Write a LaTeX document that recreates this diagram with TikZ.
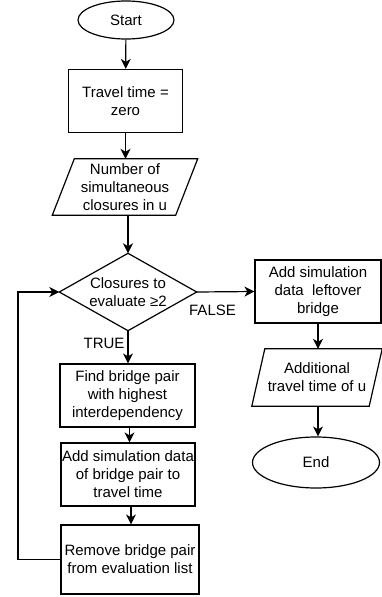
\documentclass[tikz,border=0pt]{standalone}
\usepackage{fontspec}
\setmainfont{Liberation Sans}
\usetikzlibrary{arrows.meta,shapes.geometric}

\begin{document}
\begin{tikzpicture}[x=1pt,y=-1pt,
  every node/.style={font=\fontsize{15}{18}\selectfont, align=center, inner sep=0pt},
  line/.style={line width=1.2pt},
  arr/.style={line, -{Stealth[length=10pt,width=10pt,inset=3pt]}},
  box/.style={draw, line, rectangle},
  term/.style={draw, line, ellipse},
  plain/.style={rectangle}
]
\useasboundingbox (0,0) rectangle (382,597);

% left column
\node[term, minimum width=96pt, minimum height=38pt] (start) at (126,20) {Start};
\node[box, minimum width=114pt, minimum height=63pt] (init) at (125.5,101) {Travel time =\\zero};
\node[plain, minimum width=123pt, minimum height=56pt] (num) at (125,187) {Number of\\simultaneous\\closures in u};
\node[plain, minimum width=137pt, minimum height=77pt] (dec) at (128,292) {Closures to\\evaluate ≥2};
\node[box, minimum width=135pt, minimum height=63pt] (find) at (127.5,395.5) {Find bridge pair\\with highest\\interdependency};
\node[box, minimum width=134pt, minimum height=63pt] (add) at (128,474.5) {Add simulation data\\of bridge pair to\\travel time};
\node[box, minimum width=138pt, minimum height=69pt] (remove) at (130,559.5) {Remove bridge pair\\from evaluation list};

% right column
\node[box, minimum width=126pt, minimum height=63pt] (leftover) at (318,291.5) {Add simulation\\data \ leftover\\bridge};
\node[plain, minimum width=117pt, minimum height=57pt] (extra) at (317,377.5) {Additional\\travel time of u};
\node[term, minimum width=127pt, minimum height=51pt] (end) at (316,462.5) {End};

% input/output parallelograms and decision diamond
\draw[line] ([xshift=11pt]num.north west) -- ([xshift=11pt]num.north east)
  -- ([xshift=-11pt]num.south east) -- ([xshift=-11pt]num.south west) -- cycle;
\draw[line] ([xshift=6.5pt]extra.north west) -- ([xshift=6.5pt]extra.north east)
  -- ([xshift=-6.5pt]extra.south east) -- ([xshift=-6.5pt]extra.south west) -- cycle;
\draw[line] (dec.north) -- (dec.east) -- (dec.south) -- (dec.west) -- cycle;

% connectors
\draw[arr] (start) -- (init);
\draw[arr] (init) -- (init.south |- num.north);
\draw[arr] (num.south -| dec.north) -- (dec.north);
\draw[arr] (dec.east) -- (leftover.west);
\draw[arr] (dec.south) -- (dec.south |- find.north);
\draw[arr] ([xshift=2pt]find.south) -- ([xshift=2pt]find.south |- add.north);
\draw[arr] ([xshift=3pt]add.south) -- ([xshift=3pt]add.south |- remove.north);
\coordinate (loopcorner) at (18,559.5);
\draw[arr] (remove.west) -- (loopcorner) -- (loopcorner |- dec.west) -- (dec.west);
\draw[arr] (leftover.south) -- (leftover.south |- extra.north);
\draw[arr] ([xshift=1pt]extra.south) -- ([xshift=1pt]extra.south |- end.north);

% branch labels
\node (falselbl) at (212.5,310) {FALSE};
\node (truelbl) at (104,343) {TRUE};
\end{tikzpicture}
\end{document}
